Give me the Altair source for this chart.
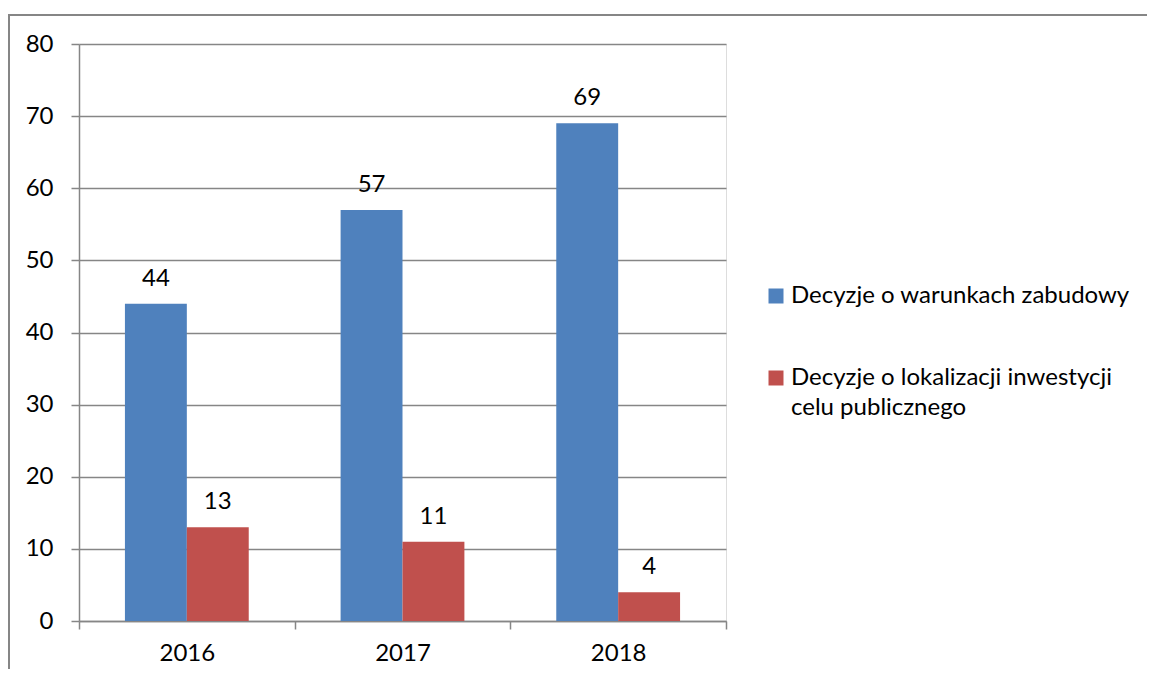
import altair as alt
import pandas as pd

years = ["2016", "2017", "2018"]
series = ["Decyzje o warunkach zabudowy",
          "Decyzje o lokalizacji inwestycji celu publicznego"]
warunki = [44, 57, 69]
lokalizacja = [13, 11, 4]
colors = ["#4F81BD", "#C0504D"]
y_ticks = [0, 10, 20, 30, 40, 50, 60, 70, 80]

rows = []
for i, yr in enumerate(years):
    rows.append({"year": yr, "series": series[0], "value": warunki[i]})
    rows.append({"year": yr, "series": series[1], "value": lokalizacja[i]})
df = pd.DataFrame(rows)

FONT = "Lato"
GRAY = "#868686"
FS = 24

x = alt.X("year:N", sort=years, title=None,
          scale=alt.Scale(paddingInner=0, paddingOuter=0),
          axis=alt.Axis(labelAngle=0, tickBand="extent", domainColor=GRAY,
                        tickColor=GRAY, tickSize=8, labelPadding=12,
                        labelFontSize=FS, labelFont=FONT, labelColor="black",
                        grid=False, domainWidth=1.5, tickWidth=1.5))
xo = alt.XOffset("series:N", sort=series,
                 scale=alt.Scale(paddingInner=0, paddingOuter=0.742))
y = alt.Y("value:Q", title=None,
          scale=alt.Scale(domain=[0, 80], nice=False),
          axis=alt.Axis(values=y_ticks, domainColor=GRAY, tickColor=GRAY,
                        tickSize=8, labelPadding=18, labelFontSize=FS,
                        labelFont=FONT, labelColor="black", gridColor=GRAY,
                        gridWidth=1.5, domainWidth=1.5, tickWidth=1.5))

legend_expr = ("datum.label == '" + series[1] + "' ? "
               "['Decyzje o lokalizacji inwestycji', 'celu publicznego'] : datum.label")

color = alt.Color("series:N", sort=series,
                  scale=alt.Scale(domain=series, range=colors),
                  legend=alt.Legend(title=None, orient="none", legendX=685,
                                    legendY=240, symbolType="square",
                                    symbolSize=225, symbolStrokeWidth=0,
                                    symbolOpacity=1, labelFont=FONT,
                                    labelFontSize=FS, labelColor="black",
                                    labelOffset=3, labelLimit=500,
                                    rowPadding=58, padding=0,
                                    labelExpr=legend_expr))

bars = alt.Chart(df).mark_bar().encode(x=x, xOffset=xo, y=y, color=color)

labels = alt.Chart(df).mark_text(baseline="alphabetic", dy=-18, fontSize=FS,
                                 font=FONT, color="black").encode(
    x=x, xOffset=xo, y=y, text="value:Q")

frame = alt.Chart(pd.DataFrame({"a": [0]})).mark_rect(
    fill="transparent", stroke=GRAY, strokeWidth=2).encode(
    x=alt.value(-70), x2=alt.value(1200), y=alt.value(-29), y2=alt.value(800))

chart = alt.layer(frame, bars, labels).properties(
    width=647, height=577,
    autosize=alt.AutoSizeParams(type="none"),
    padding={"left": 71, "top": 36, "right": 421, "bottom": 48},
).configure_view(stroke="transparent").configure(
    style={"guide-label": {"lineHeight": 30}})

chart.save("out.html", embed_options={"renderer": "svg", "actions": False})
